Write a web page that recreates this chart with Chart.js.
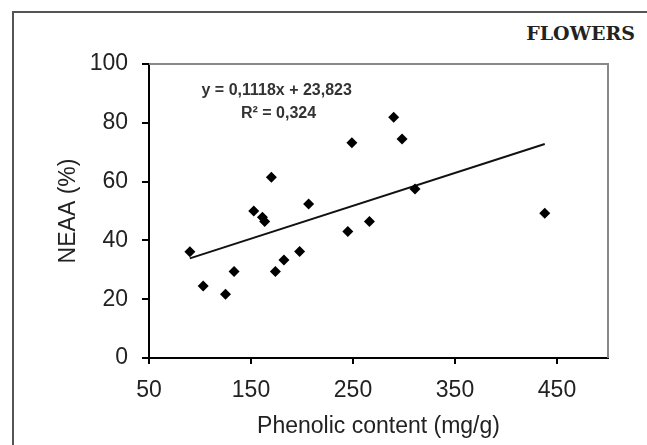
<!DOCTYPE html>
<html lang="en">
<head>
<meta charset="UTF-8">
<title>NEAA vs phenolic content</title>
<script src="https://cdn.jsdelivr.net/npm/chart.js"></script>
<style>
    body { margin: 0; background: #fff; }
    #moldura {
        position: absolute; left: 12px; top: 11px; width: 700px; height: 500px;
        border: 2px solid #555; box-sizing: border-box;
    }
    #rotulo {
        position: absolute; right: 12px; top: 22px;
        font-family: "DejaVu Serif", serif; font-size: 19px; font-weight: bold; color: #222;
    }
    #caixa { position: absolute; left: 0; top: 0; width: 647px; height: 445px; }
</style>
</head>
<body>
<div id="moldura"></div>
<div id="rotulo">FLOWERS</div>
<div id="caixa"><canvas id="grafico"></canvas></div>

<script>
    // valores
    var fenolicos = [90.1, 103.1, 125, 133.4, 152.7, 161.2, 163.4, 170, 173.9, 182.3, 197.7, 206.5, 244.9, 248.9, 266.1, 289.9, 298.1, 310.8, 438]
    var neaa = [36.1, 24.5, 21.7, 29.4, 50, 47.9, 46.4, 61.5, 29.4, 33.3, 36.2, 52.4, 43, 73.2, 46.4, 81.9, 74.5, 57.5, 49.2]

    // linha de tendencia (extremos)
    var tendX = [90, 438]
    var tendY = [33.9, 72.8]

    var ticksX = [50, 150, 250, 350, 450]
    var ticksY = [0, 20, 40, 60, 80, 100]

    var equacao = ['y = 0,1118x + 23,823', 'R² = 0,324']

    var pontos = fenolicos.map(function (x, i) { return { x: x, y: neaa[i] } })
    var linha = tendX.map(function (x, i) { return { x: x, y: tendY[i] } })

    // borda cinza em cima e na direita + texto da equacao
    const extras = {
        id: 'extras',
        beforeDatasetsDraw(chart) {
            const a = chart.chartArea
            const ctx = chart.ctx
            ctx.save()
            ctx.strokeStyle = '#888'
            ctx.lineWidth = 2
            ctx.beginPath()
            ctx.moveTo(a.left, a.top)
            ctx.lineTo(a.right, a.top)
            ctx.lineTo(a.right, a.bottom)
            ctx.stroke()
            ctx.restore()
        },
        afterDatasetsDraw(chart) {
            const ctx = chart.ctx
            const sx = chart.scales.x, sy = chart.scales.y
            ctx.save()
            ctx.fillStyle = '#333'
            ctx.font = 'bold 16px "Liberation Sans", Arial, sans-serif'
            ctx.textAlign = 'center'
            ctx.textBaseline = 'middle'
            ctx.fillText(equacao[0], sx.getPixelForValue(175.2), sy.getPixelForValue(90.8))
            ctx.fillText(equacao[1], sx.getPixelForValue(177), sy.getPixelForValue(83.3))
            ctx.restore()
        }
    }

    const fonteEixo = { family: '"Liberation Sans", Arial, sans-serif', size: 23 }

    const config = {
        type: 'scatter',
        data: {
            datasets: [
                {
                    label: 'NEAA',
                    data: pontos,
                    pointStyle: 'rectRot',
                    pointRadius: 5.5,
                    backgroundColor: '#000',
                    borderColor: '#000',
                    borderWidth: 0
                },
                {
                    label: 'Tendencia',
                    type: 'line',
                    data: linha,
                    borderColor: '#111',
                    borderWidth: 2,
                    pointRadius: 0,
                    fill: false
                }
            ]
        },
        options: {
            responsive: true,
            maintainAspectRatio: false,
            animation: false,
            layout: { padding: { left: 14, top: 64, right: 39, bottom: 0 } },
            plugins: {
                legend: { display: false },
                tooltip: { enabled: false }
            },
            scales: {
                x: {
                    type: 'linear',
                    min: 50,
                    max: 500,
                    afterFit: function (s) { s.height = 87 },
                    afterBuildTicks: function (s) { s.ticks = ticksX.map(function (v) { return { value: v } }) },
                    grid: { drawOnChartArea: false, tickLength: 6, color: '#000', lineWidth: 2 },
                    border: { color: '#000', width: 2 },
                    ticks: { color: '#222', font: fonteEixo, padding: 13, maxRotation: 0 },
                    title: { display: true, text: 'Phenolic content (mg/g)', color: '#222', font: fonteEixo, padding: { top: 0, bottom: 5 } }
                },
                y: {
                    min: 0,
                    max: 100,
                    afterFit: function (s) { s.width = 135 },
                    afterBuildTicks: function (s) { s.ticks = ticksY.map(function (v) { return { value: v } }) },
                    grid: { drawOnChartArea: false, tickLength: 7, color: '#000', lineWidth: 2 },
                    border: { color: '#000', width: 2 },
                    ticks: { color: '#222', font: fonteEixo, padding: 14 },
                    title: { display: true, text: 'NEAA (%)', color: '#222', font: fonteEixo, padding: { top: 41, bottom: 0 } }
                }
            }
        },
        plugins: [extras]
    }

    const grafico = new Chart(document.getElementById('grafico'), config)
</script>
</body>
</html>
